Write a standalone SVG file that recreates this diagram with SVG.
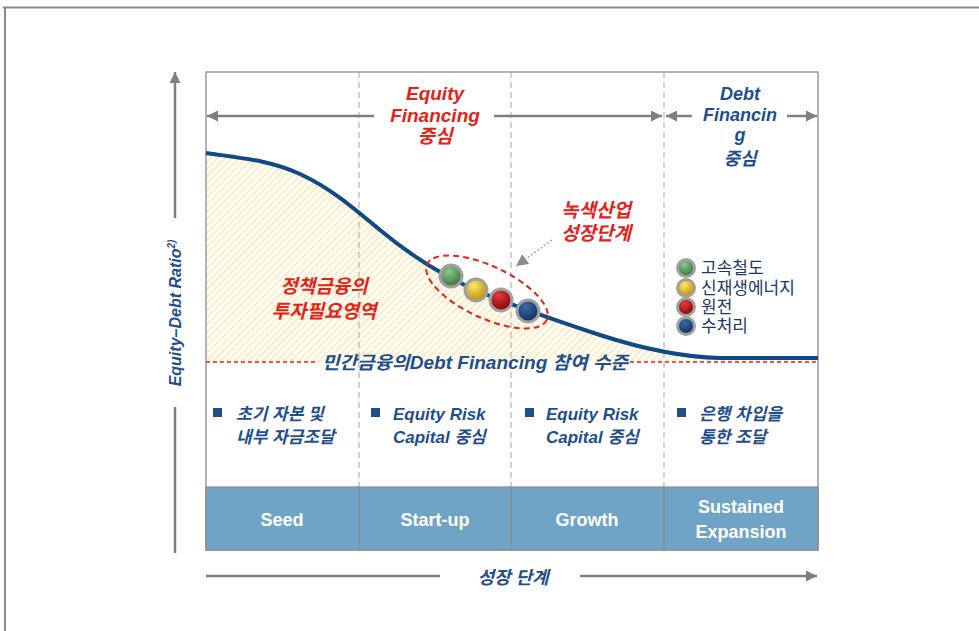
<svg xmlns="http://www.w3.org/2000/svg" width="979" height="631" viewBox="0 0 979 631">
<defs>
  <style>
    .frame { stroke:#8A8A8A; stroke-width:2; fill:none }
    .ax { stroke:#808080; stroke-width:2.5; fill:none }
    .vd { stroke:#B4B4B4; stroke-width:1.2; stroke-dasharray:6 4; fill:none }
    .redl { stroke:#E2231A; stroke-width:1.6; stroke-dasharray:4 3; fill:none }
    .t { font-family:"Liberation Sans","Noto Sans CJK KR",sans-serif }
    .red { fill:#E2231A; font-weight:bold; font-style:italic }
    .nv { fill:#1F4E8C; font-weight:bold; font-style:italic }
    .lg { fill:#1F3864; font-size:17px }
    .band { fill:#6FA4C6; stroke:#8C8C8C; stroke-width:1.2 }
    .bt { fill:#FFFFFF; font-weight:bold; font-size:18px; font-family:"Liberation Sans Narrow","Liberation Sans",sans-serif }
    .sq { fill:#1F4E8C }
    .ring { stroke:#A0A0A0; stroke-width:3 }
  </style>
  <pattern id="hatch" patternUnits="userSpaceOnUse" width="5" height="5" patternTransform="rotate(45)">
    <rect width="5" height="5" fill="#FFFEFA"/>
    <line x1="1" y1="0" x2="1" y2="5" stroke="#F8E4A6" stroke-width="1.3"/>
  </pattern>
  <marker id="ah" viewBox="0 0 10 10" refX="10" refY="5" markerWidth="11" markerHeight="11" markerUnits="userSpaceOnUse" orient="auto">
    <path d="M0,0 L10,5 L0,10 z" fill="#7F7F7F"/>
  </marker>
  <marker id="ahs" viewBox="0 0 10 10" refX="10" refY="5" markerWidth="12" markerHeight="12" markerUnits="userSpaceOnUse" orient="auto">
    <path d="M0,0 L10,5 L0,10 z" fill="#8C8C8C"/>
  </marker>
  <radialGradient id="gG" cx="0.4" cy="0.3" r="0.75">
    <stop offset="0" stop-color="#8CC88C"/><stop offset="1" stop-color="#2F6E34"/>
  </radialGradient>
  <radialGradient id="gY" cx="0.4" cy="0.3" r="0.75">
    <stop offset="0" stop-color="#FFE866"/><stop offset="1" stop-color="#B88A00"/>
  </radialGradient>
  <radialGradient id="gR" cx="0.4" cy="0.3" r="0.75">
    <stop offset="0" stop-color="#E83A3A"/><stop offset="1" stop-color="#7A0000"/>
  </radialGradient>
  <radialGradient id="gB" cx="0.4" cy="0.3" r="0.75">
    <stop offset="0" stop-color="#3A6AAA"/><stop offset="1" stop-color="#0A2B58"/>
  </radialGradient>
</defs>

<rect width="979" height="631" fill="#FFFFFF"/>
<path class="frame" d="M3,7.5 H979 M5,7.5 V631"/>

<g id="chart-area">
  <path d="M206,153 C240,158 270,160 300,174 C330,188 350,205 380,230 C410,255 440,275 480,292 C520,308 560,322 600,335 C640,348 680,357 720,358 L818,358 L818,362 L206,362 Z" fill="url(#hatch)"/>
  <path class="vd" d="M359,72 V487 M511,72 V487 M664,72 V487"/>
  <rect x="206" y="72" width="612" height="478" fill="none" stroke="#9A9A9A" stroke-width="1.5"/>
</g>

<g id="band">
  <rect class="band" x="206" y="487" width="153" height="63"/>
  <rect class="band" x="359" y="487" width="152" height="63"/>
  <rect class="band" x="511" y="487" width="153" height="63"/>
  <rect class="band" x="664" y="487" width="154" height="63"/>
  <text class="bt" x="282" y="526" text-anchor="middle">Seed</text>
  <text class="bt" x="435" y="526" text-anchor="middle">Start-up</text>
  <text class="bt" x="587" y="526" text-anchor="middle">Growth</text>
  <text class="bt" x="741" y="513" text-anchor="middle">Sustained</text>
  <text class="bt" x="741" y="538" text-anchor="middle">Expansion</text>
</g>

<g id="connectors">
  <line class="ax" x1="175" y1="218" x2="175" y2="72" marker-end="url(#ah)"/>
  <line class="ax" x1="175" y1="407" x2="175" y2="553"/>
  <line class="ax" x1="206" y1="576" x2="440" y2="576"/>
  <line class="ax" x1="580" y1="576" x2="817" y2="576" marker-end="url(#ah)"/>
  <line class="ax" x1="374" y1="116" x2="207" y2="116" marker-end="url(#ah)"/>
  <line class="ax" x1="494" y1="116" x2="662" y2="116" marker-end="url(#ah)"/>
  <line class="ax" x1="692" y1="116" x2="666" y2="116" marker-end="url(#ah)"/>
  <line class="ax" x1="787" y1="116" x2="817" y2="116" marker-end="url(#ah)"/>
  <path class="redl" d="M206,362 H318 M630,362 H818"/>
  <line x1="552" y1="240" x2="516" y2="266" stroke="#A6A6A6" stroke-width="1.5" stroke-dasharray="2 2" marker-end="url(#ahs)"/>
</g>

<g id="curve">
  <path d="M206,153 C240,158 270,160 300,174 C330,188 350,205 380,230 C410,255 440,275 480,292 C520,308 560,322 600,335 C640,348 680,357 720,358 L818,358" fill="none" stroke="#0D4A86" stroke-width="4"/>
</g>

<g id="green-industry">
  <ellipse cx="487" cy="292" rx="66" ry="26" transform="rotate(25 487 292)" fill="none" stroke="#E2231A" stroke-width="2" stroke-dasharray="6 4"/>
  <circle class="ring" cx="451" cy="276" r="11" fill="url(#gG)"/>
  <circle class="ring" cx="476" cy="290" r="11" fill="url(#gY)"/>
  <circle class="ring" cx="501" cy="300" r="11" fill="url(#gR)"/>
  <circle class="ring" cx="528" cy="311" r="11" fill="url(#gB)"/>
</g>

<g id="legend">
  <circle class="ring" cx="686" cy="268" r="8.5" fill="url(#gG)"/>
  <circle class="ring" cx="686" cy="288" r="8.5" fill="url(#gY)"/>
  <circle class="ring" cx="686" cy="307" r="8.5" fill="url(#gR)"/>
  <circle class="ring" cx="686" cy="326" r="8.5" fill="url(#gB)"/>
  <text class="t lg" x="701" y="274">고속철도</text>
  <text class="t lg" x="701" y="294">신재생에너지</text>
  <text class="t lg" x="701" y="313">원전</text>
  <text class="t lg" x="701" y="332">수처리</text>
</g>

<g id="labels">
  <text class="t red" font-size="19" text-anchor="middle" x="435" y="100">Equity</text>
  <text class="t red" font-size="19" text-anchor="middle" x="435" y="122">Financing</text>
  <text class="t red" font-size="19" text-anchor="middle" x="435" y="143">중심</text>
  <text class="t nv" font-size="18" text-anchor="middle" x="740" y="100">Debt</text>
  <text class="t nv" font-size="18" text-anchor="middle" x="740" y="121">Financin</text>
  <text class="t nv" font-size="18" text-anchor="middle" x="740" y="141">g</text>
  <text class="t nv" font-size="18" text-anchor="middle" x="740" y="165">중심</text>
  <text class="t red" font-size="19" text-anchor="middle" x="596" y="217">녹색산업</text>
  <text class="t red" font-size="19" text-anchor="middle" x="596" y="240">성장단계</text>
  <text class="t red" font-size="19" text-anchor="middle" x="324" y="293">정책금융의</text>
  <text class="t red" font-size="19" text-anchor="middle" x="324" y="318">투자필요영역</text>
  <text class="t nv" font-size="18" x="322" y="369" textLength="306" lengthAdjust="spacingAndGlyphs">민간금융의Debt Financing 참여 수준</text>
  <text class="t nv" font-size="16" transform="translate(181,313) rotate(-90)" text-anchor="middle">Equity–Debt Ratio<tspan font-size="10" dy="-6">2)</tspan></text>
  <text class="t nv" font-size="18" x="513" y="584" text-anchor="middle">성장 단계</text>
</g>

<g id="bullets">
  <rect class="sq" x="213" y="408" width="9" height="9"/>
  <text class="t nv" font-size="17" x="236" y="420">초기 자본 및</text>
  <text class="t nv" font-size="17" x="236" y="443">내부 자금조달</text>
  <rect class="sq" x="371" y="408" width="9" height="9"/>
  <text class="t nv" font-size="17" x="393" y="420">Equity Risk</text>
  <text class="t nv" font-size="17" x="393" y="443">Capital 중심</text>
  <rect class="sq" x="525" y="408" width="9" height="9"/>
  <text class="t nv" font-size="17" x="546" y="420">Equity Risk</text>
  <text class="t nv" font-size="17" x="546" y="443">Capital 중심</text>
  <rect class="sq" x="677" y="408" width="9" height="9"/>
  <text class="t nv" font-size="17" x="699" y="420">은행 차입을</text>
  <text class="t nv" font-size="17" x="699" y="443">통한 조달</text>
</g>
</svg>
